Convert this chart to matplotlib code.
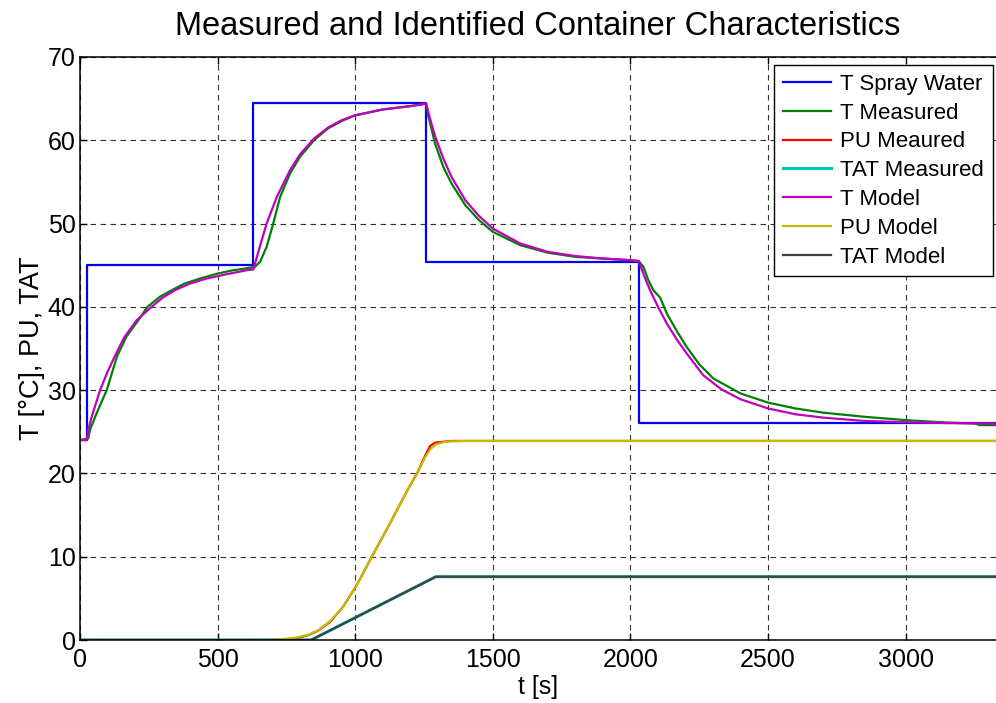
import matplotlib
matplotlib.use("Agg")
import matplotlib.pyplot as plt

plt.rcParams['font.family'] = ['Liberation Sans', 'DejaVu Sans']

# T Spray Water (step levels, each held until the next time)
spray_t = [0, 25, 630, 1257, 2031, 3328]
spray_v = [24, 45, 64.5, 45.4, 26, 26]

# T Measured
tmeas_t = [0, 30, 36, 60, 97, 135, 170, 212, 245, 290, 333, 380, 436, 500, 557, 600, 635,
           654, 678, 702, 727, 763, 799, 850, 900, 950, 1000, 1100, 1200, 1258,
           1265, 1290, 1320, 1350, 1400, 1450, 1500, 1600, 1700, 1800, 1900, 2000, 2030,
           2047, 2065, 2083, 2108, 2132, 2170, 2204, 2250, 2301, 2400, 2500, 2600, 2700,
           2850, 3000, 3150, 3250, 3270, 3328]
tmeas_v = [24, 24.2, 25.2, 27.2, 30, 34.1, 36.5, 38.4, 40, 41.2, 42, 42.8, 43.4, 44.0, 44.4, 44.6, 44.8,
           45.4, 47.2, 50, 53.2, 56.0, 58.0, 60.0, 61.4, 62.3, 63.0, 63.7, 64.1, 64.4,
           63.0, 59.6, 56.8, 54.8, 52.2, 50.4, 49.0, 47.4, 46.5, 46.0, 45.8, 45.6, 45.5,
           44.8, 43.2, 42.0, 41.1, 39.2, 37.0, 35.2, 33.1, 31.4, 29.6, 28.5, 27.8, 27.3,
           26.8, 26.4, 26.1, 26.0, 25.8, 25.8]

# T Model
tmod_t = [0, 25, 30, 40, 50, 73, 100, 127, 160, 206, 260, 300, 345, 400, 460, 530, 606, 630,
          654, 678, 715, 763, 799, 850, 900, 950, 1000, 1100, 1200, 1258,
          1270, 1290, 1320, 1350, 1400, 1450, 1500, 1600, 1700, 1800, 1900, 2000, 2030,
          2050, 2071, 2100, 2132, 2170, 2200, 2264, 2330, 2400, 2500, 2600, 2700,
          2850, 3000, 3150, 3328]
tmod_v = [24, 24, 25.2, 26.5, 27.6, 30, 32.2, 34.1, 36.3, 38.4, 40, 41.1, 42, 42.8, 43.4, 43.9, 44.4, 44.5,
          47.3, 50, 53.2, 56.4, 58.3, 60.2, 61.5, 62.4, 63.0, 63.7, 64.1, 64.4,
          62.8, 60.5, 57.8, 55.6, 52.8, 50.9, 49.4, 47.6, 46.6, 46.1, 45.8, 45.6, 45.5,
          43.7, 42.0, 40.0, 38.0, 36.0, 34.6, 31.8, 30.1, 28.9, 27.8, 27.1, 26.7,
          26.3, 26.15, 26.05, 26.0]

# PU Measured / PU Model
pumeas_t = [0, 700, 760, 800, 830, 864, 910, 956, 1002, 1030, 1060, 1110, 1150, 1190, 1226,
            1255, 1272, 1290, 1320, 1350, 1400, 3328]
pumeas_v = [0, 0, 0.1, 0.3, 0.6, 1.1, 2.2, 4.0, 6.4, 8.1, 10.0, 13.0, 15.5, 18.0, 20.1,
            22.2, 23.3, 23.7, 23.8, 23.9, 23.9, 23.9]
pumod_t = [0, 680, 750, 794, 830, 864, 910, 956, 1002, 1030, 1060, 1110, 1150, 1190, 1226,
           1255, 1275, 1295, 1320, 1350, 1400, 3328]
pumod_v = [0, 0, 0.15, 0.35, 0.65, 1.15, 2.3, 4.0, 6.4, 8.1, 10.0, 13.0, 15.5, 18.0, 20.1,
           22.0, 23.0, 23.5, 23.75, 23.85, 23.9, 23.9]

# TAT Measured / TAT Model
tat_t = [0, 840, 1293, 3328]
tatmeas_v = [0, 0, 7.6, 7.6]
tatmod_v = [0, 0, 7.6, 7.6]

fig = plt.figure(figsize=(9.96, 7.03), dpi=100)
ax = fig.add_axes([80 / 996, 1 - 640 / 703, 1 - 80 / 996, (640 - 57) / 703])

lw = 1.6
ax.plot(spray_t, spray_v, color=(0, 0, 1), lw=lw, drawstyle='steps-post', label='T Spray Water')
ax.plot(tmeas_t, tmeas_v, color=(0, 0.5, 0), lw=lw, label='T Measured')
ax.plot(pumeas_t, pumeas_v, color=(1, 0, 0), lw=lw, label='PU Meaured')
ax.plot(tat_t, tatmeas_v, color=(0, 0.75, 0.75), lw=2.2, label='TAT Measured')
ax.plot(tmod_t, tmod_v, color=(0.75, 0, 0.75), lw=lw, label='T Model')
ax.plot(pumod_t, pumod_v, color=(0.75, 0.75, 0), lw=lw, label='PU Model')
ax.plot(tat_t, tatmod_v, color=(0.25, 0.25, 0.25), lw=lw, label='TAT Model')

ax.set_xlim(0, 3328)
ax.set_ylim(0, 70)
ax.set_xticks(range(0, 3001, 500))
ax.set_yticks(range(0, 71, 10))
ax.tick_params(direction='in', top=True, right=False, labelsize=18, length=5, width=1)
ax.tick_params(axis='x', pad=6)
ax.tick_params(axis='y', pad=3)
for s in ['left', 'top', 'bottom']:
    ax.spines[s].set_linewidth(1.1)
ax.spines['right'].set_visible(False)
ax.grid(True, color='0.2', linestyle=(0, (5, 4)), linewidth=0.8)

ax.set_title('Measured and Identified Container Characteristics', fontsize=23.5, pad=16)
ax.set_xlabel('t [s]', fontsize=18, labelpad=2)
ax.set_ylabel('T [°C], PU, TAT', fontsize=19.5, labelpad=2)

leg = ax.legend(loc='upper right', bbox_to_anchor=(993 / 996, 1 - 65 / 703),
                bbox_transform=fig.transFigure, borderaxespad=0, fontsize=16,
                fancybox=False, framealpha=1, edgecolor='black', handlelength=2.2,
                labelspacing=0.35, borderpad=0.4, handletextpad=0.4)
leg.get_frame().set_linewidth(1.0)

fig.savefig('out.png', dpi=100)
